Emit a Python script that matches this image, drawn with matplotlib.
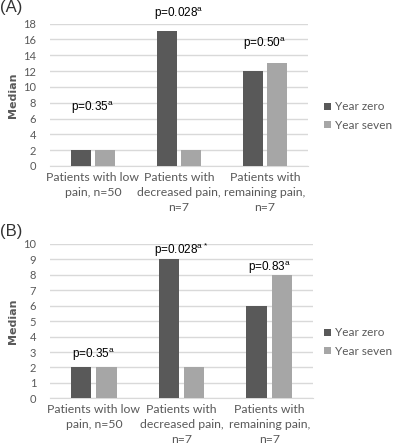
import numpy as np
import matplotlib.pyplot as plt

categories = ["Patients with low\npain, n=50",
              "Patients with\ndecreased pain,\nn=7",
              "Patients with\nremaining pain,\nn=7"]
series_names = ["Year zero", "Year seven"]

a_zero = [2, 17, 12]
a_seven = [2, 2, 13]
a_pvals = ["p=0.35$^{\\mathregular{a}}$", "p=0.028$^{\\mathregular{a}}$", "p=0.50$^{\\mathregular{a}}$"]
a_pval_y = [7.4, 19.2, 15.5]
a_ticks = np.arange(0, 19, 2)

b_zero = [2, 9, 6]
b_seven = [2, 2, 8]
b_pvals = ["p=0.35$^{\\mathregular{a}}$", "p=0.028$^{\\mathregular{a*}}$", "p=0.83$^{\\mathregular{a}}$"]
b_pval_y = [2.85, 9.6, 8.5]
b_ticks = np.arange(0, 11, 1)

dark = "#595959"
light = "#a6a6a6"
grey_txt = "#595959"
grid_c = "#d9d9d9"

fig = plt.figure(figsize=(3.93, 4.46), dpi=100)


def panel(rect, zero, seven, pvals, pval_y, ticks, letter, letter_y, leg_y):
    ax = fig.add_axes(rect)
    x = np.arange(len(categories))
    w = 0.233
    off = 0.145
    ax.bar(x - off, zero, w, color=dark, label=series_names[0], zorder=3)
    ax.bar(x + off, seven, w, color=light, label=series_names[1], zorder=3)
    ax.set_xlim(-0.5, 2.5)
    ax.set_ylim(0, ticks[-1])
    ax.set_yticks(ticks)
    ax.yaxis.grid(True, color=grid_c, linewidth=1, zorder=0)
    for s in ["top", "right", "left"]:
        ax.spines[s].set_visible(False)
    ax.spines["bottom"].set_color(grid_c)
    ax.tick_params(axis="both", length=0, colors=grey_txt, labelsize=8)
    ax.tick_params(axis="y", pad=10)
    ax.tick_params(axis="x", pad=4)
    ax.set_xticks(x)
    ax.set_xticklabels(categories, fontsize=8.8, family="Lato")
    for t in ax.get_xticklabels():
        t.set_linespacing(1.45)
    for t in ax.get_yticklabels():
        t.set_family("Lato")
    ax.set_ylabel("Median", fontsize=8, fontweight="bold", color=grey_txt, labelpad=4)
    for i in range(len(pvals)):
        ax.text(x[i], pval_y[i], pvals[i], ha="center", va="center",
                fontsize=8.5, family="Liberation Sans", clip_on=False)
    fig.text(0.0, letter_y, letter, fontsize=12, family="Liberation Sans",
             color="#333333", va="top")
    fig.legend(*ax.get_legend_handles_labels(), loc="center left",
               bbox_to_anchor=(0.825, leg_y), frameon=False,
               borderaxespad=0, borderpad=0,
               prop={"family": "Lato", "size": 8.5}, labelcolor=grey_txt,
               handlelength=0.6, handleheight=0.6, handletextpad=0.3,
               labelspacing=0.6)
    return ax


panel([50 / 393, 1 - 166 / 446, 258 / 393, 142.5 / 446],
      a_zero, a_seven, a_pvals, a_pval_y, a_ticks, "(A)", 1.0, 1 - 116 / 446)
panel([50 / 393, 1 - 398.3 / 446, 263 / 393, 154.3 / 446],
      b_zero, b_seven, b_pvals, b_pval_y, b_ticks, "(B)", 1 - 224 / 446, 1 - 342 / 446)

fig.savefig("out.png", dpi=100)
